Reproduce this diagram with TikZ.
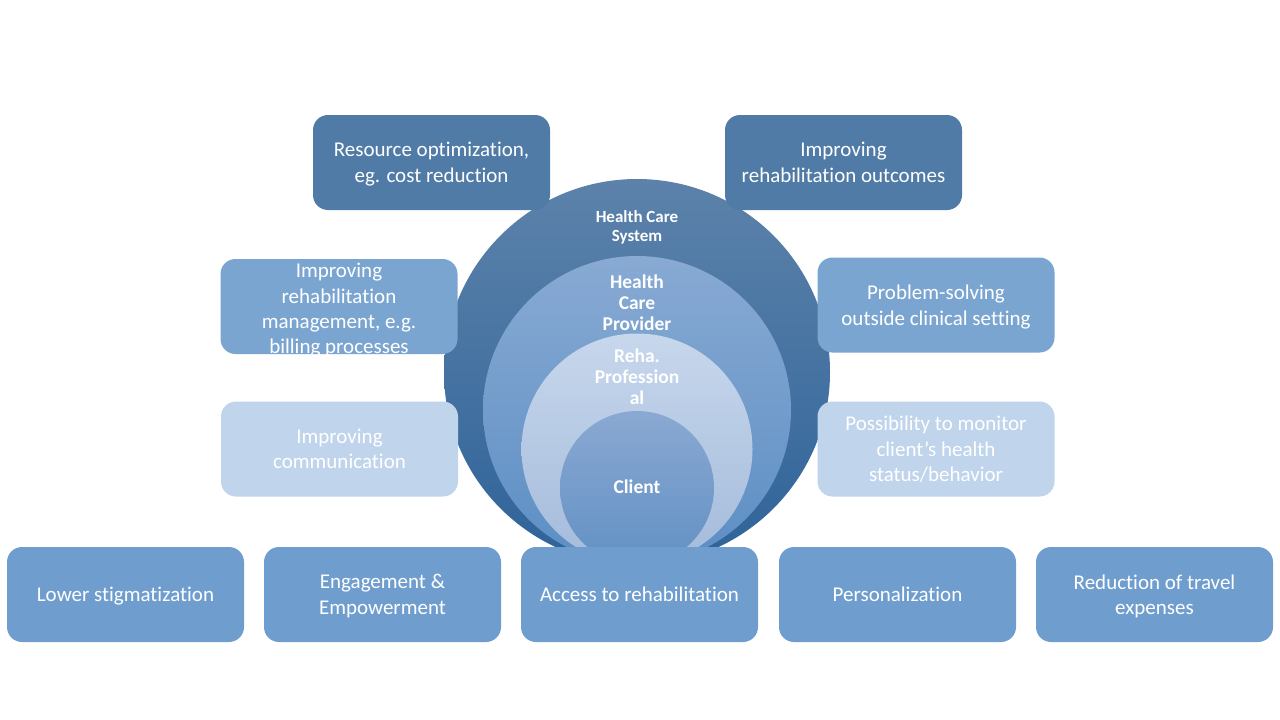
\documentclass[tikz,border=0pt]{standalone}
\usepackage{fontspec}
\setmainfont[Ligatures=NoCommon]{Carlito}
\definecolor{darkgoal}{RGB}{80,123,166}
\definecolor{midgoal}{RGB}{123,165,209}
\definecolor{lightgoal}{RGB}{192,212,236}
\definecolor{basegoal}{RGB}{111,158,206}
\begin{document}
\begin{tikzpicture}[
        x=1pt, y=-1pt,
        goal/.style={rounded corners=15pt, minimum width=237pt, minimum height=95pt,
            inner sep=0pt, align=center, text=white, text depth=0pt,
            font=\fontsize{21}{25.5}\selectfont},
        ring/.style={circle, inner sep=0pt},
        ringtext/.style={align=center, text=white, font=\fontsize{19.5}{21}\selectfont\bfseries}
    ]
        \useasboundingbox[fill=white] (0,0) rectangle (1280,720);

        % nested circles
        \node[ring, minimum size=386pt, top color={rgb,255:red,92;green,130;blue,170}, bottom color={rgb,255:red,47;green,99;blue,153}] (system) at (637,372) {};
        \node[ring, minimum size=308pt, top color={rgb,255:red,136;green,170;blue,211}, bottom color={rgb,255:red,92;green,142;blue,196}] (provider) at (637,410) {};
        \node[ring, minimum size=231pt, top color={rgb,255:red,199;green,215;blue,236}, bottom color={rgb,255:red,164;green,187;blue,219}] (professional) at (637,449) {};
        \node[ring, minimum size=154pt, top color={rgb,255:red,138;green,169;blue,210}, bottom color={rgb,255:red,98;green,144;blue,196}] (client) at (637,488) {};

        \node[ringtext, font=\fontsize{17}{19}\selectfont\bfseries] (system-lbl) at (637,227) {Health Care\\System};
        \node[ringtext] (provider-lbl) at (637,303) {Health\\Care\\Provider};
        \node[ringtext] (professional-lbl) at (637,377) {Reha.\\Profession\\al};
        \node[ringtext] (client-lbl) at (637,487) {Client};

        % goals
        \node[goal, fill=darkgoal] (resource) at (431.5,162.5) {Resource optimization,\\eg. cost reduction};
        \node[goal, fill=darkgoal] (outcomes) at (843.5,162.5) {Improving\\rehabilitation outcomes};
        \node[goal, fill=midgoal] (management) at (339,306.5) {};
        \node[align=center, text=white, inner sep=0pt, font=\fontsize{21}{25.3}\selectfont, yshift=-4pt] (management-txt) at (management.center) {Improving\\rehabilitation\\management, e.g.\\billing processes};
        \node[goal, fill=midgoal] (problem) at (936,305) {Problem-solving\\outside clinical setting};
        \node[goal, fill=lightgoal] (communication) at (339.5,449) {Improving\\communication};
        \node[goal, fill=lightgoal] (monitor) at (936,449) {Possibility to monitor\\client’s health\\status/behavior};

        \node[goal, fill=basegoal] (stigma) at (125.5,594.5) {Lower stigmatization};
        \node[goal, fill=basegoal] (empower) at (382.5,594.5) {Engagement \&\\Empowerment};
        \node[goal, fill=basegoal] (access) at (639.5,594.5) {Access to rehabilitation};
        \node[goal, fill=basegoal] (personal) at (897.5,594.5) {Personalization};
        \node[goal, fill=basegoal] (travel) at (1154.5,594.5) {Reduction of travel\\expenses};
    \end{tikzpicture}
\end{document}
